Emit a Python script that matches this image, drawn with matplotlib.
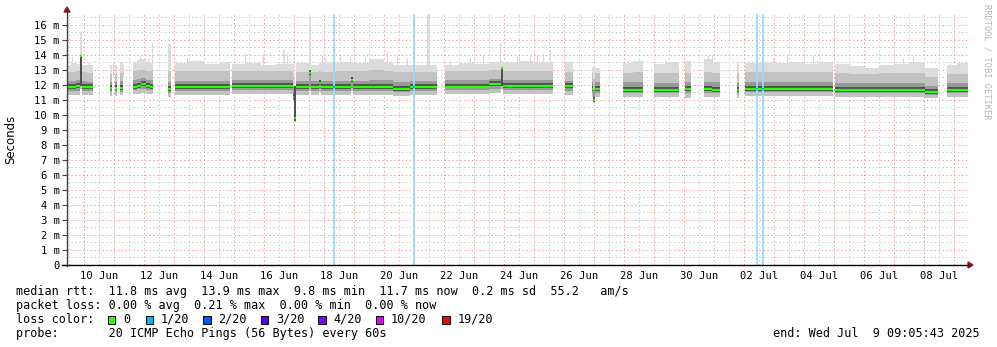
import numpy as np
import matplotlib
matplotlib.use("Agg")
import matplotlib.pyplot as plt
from matplotlib.lines import Line2D
from matplotlib.patches import Rectangle, Polygon

nan = np.nan
W, H = 997, 347

# sample start times in days since 09 Jun 00:00; a nan row closes a block of data
t = np.array([
    0.43, 0.58, 0.73, 0.86, 0.93, 1.10, 1.30,
    1.85, 1.92,
    2.03, 2.11,
    2.20, 2.31,
    2.62, 2.75, 2.90, 3.05, 3.20, 3.26, 3.30,
    3.80, 3.89,
    4.03, 4.50, 5.00, 5.50, 5.87,
    5.93, 6.40, 6.90, 7.40, 7.62, 7.70, 7.95, 7.99, 8.06, 8.50, 8.56, 8.83,
    8.90, 9.40, 9.90, 9.96, 10.50, 11.00, 11.30, 11.87, 12.20, 12.43, 12.53, 12.77,
    13.03, 13.50, 14.00, 14.50, 14.90, 14.96, 15.50, 16.00, 16.52, 16.58, 16.62,
    17.03, 17.30,
    17.92, 17.97, 18.05, 18.20,
    18.96, 19.30, 19.62,
    20.00, 20.40, 20.83,
    21.03, 21.23,
    21.67, 21.95, 22.20,
    22.76, 22.83,
    23.03, 23.50, 24.00, 24.50, 25.00, 25.50, 25.97,
    26.03, 26.50, 27.00, 27.50, 28.00, 28.50, 29.03, 29.47,
    29.76, 30.10, 30.47,
])

# median rtt (ms)
med = np.array([
    11.85, 11.85, 11.90, 13.90, 11.85, 11.85, nan,
    11.80, nan,
    11.82, nan,
    11.80, nan,
    11.85, 11.95, 12.05, 11.90, 11.85, 11.85, nan,
    11.72, nan,
    11.84, 11.84, 11.84, 11.84, nan,
    11.92, 11.92, 11.92, 11.92, 11.92, 11.92, 11.20, 9.80, 11.84, 12.80, 11.84, 12.10,
    11.84, 11.84, 12.30, 11.84, 11.84, 11.84, 11.71, 11.84, 11.84, 11.84, 11.84, nan,
    11.89, 11.89, 11.89, 12.04, 13.10, 11.90, 11.90, 11.90, 11.92, 11.90, nan,
    11.90, nan,
    11.70, 11.00, 11.70, nan,
    11.67, 11.67, nan,
    11.67, 11.67, nan,
    11.70, nan,
    11.70, 11.67, nan,
    11.67, nan,
    11.70, 11.70, 11.70, 11.70, 11.70, 11.70, nan,
    11.67, 11.67, 11.67, 11.67, 11.67, 11.67, 11.53, nan,
    11.67, 11.67, nan,
])

# smoke: lowest ping
low = np.array([
    11.35, 11.35, 11.35, 11.70, 11.35, 11.35, nan,
    11.25, nan,
    11.25, nan,
    11.30, nan,
    11.40, 11.40, 11.45, 11.40, 11.40, 11.40, nan,
    11.20, nan,
    11.35, 11.35, 11.35, 11.35, nan,
    11.40, 11.40, 11.40, 11.40, 11.40, 11.40, 10.90, 9.55, 11.35, 11.60, 11.35, 11.50,
    11.35, 11.35, 11.60, 11.35, 11.35, 11.35, 11.25, 11.35, 11.35, 11.35, 11.35, nan,
    11.40, 11.40, 11.40, 11.45, 11.70, 11.40, 11.40, 11.40, 11.40, 11.40, nan,
    11.35, nan,
    11.20, 10.80, 11.20, nan,
    11.20, 11.20, nan,
    11.20, 11.20, nan,
    11.15, nan,
    11.20, 11.20, nan,
    11.15, nan,
    11.25, 11.25, 11.25, 11.25, 11.25, 11.25, nan,
    11.20, 11.20, 11.20, 11.20, 11.20, 11.20, 11.10, nan,
    11.20, 11.20, nan,
])

# smoke: inner pings around the median
inner_lo = np.array([
    11.60, 11.60, 11.60, 11.90, 11.60, 11.60, nan,
    11.50, nan,
    11.50, nan,
    11.55, nan,
    11.65, 11.70, 11.75, 11.65, 11.65, 11.65, nan,
    11.45, nan,
    11.60, 11.60, 11.60, 11.60, nan,
    11.65, 11.65, 11.65, 11.65, 11.65, 11.65, 11.00, 9.60, 11.60, 11.85, 11.60, 11.70,
    11.60, 11.60, 11.80, 11.60, 11.60, 11.60, 11.50, 11.60, 11.60, 11.60, 11.60, nan,
    11.65, 11.65, 11.65, 11.75, 11.95, 11.65, 11.65, 11.65, 11.65, 11.65, nan,
    11.60, nan,
    11.45, 10.90, 11.45, nan,
    11.45, 11.45, nan,
    11.45, 11.45, nan,
    11.45, nan,
    11.45, 11.45, nan,
    11.40, nan,
    11.50, 11.50, 11.50, 11.50, 11.50, 11.50, nan,
    11.45, 11.45, 11.45, 11.45, 11.45, 11.45, 11.30, nan,
    11.45, 11.45, nan,
])

inner_hi = np.array([
    12.25, 12.25, 12.30, 13.90, 12.25, 12.20, nan,
    12.20, nan,
    12.20, nan,
    12.25, nan,
    12.30, 12.40, 12.45, 12.30, 12.30, 12.30, nan,
    12.20, nan,
    12.25, 12.25, 12.25, 12.25, nan,
    12.30, 12.30, 12.30, 12.30, 12.30, 12.30, 11.90, 11.90, 12.25, 12.80, 12.25, 12.25,
    12.25, 12.25, 12.35, 12.25, 12.30, 12.30, 12.20, 12.25, 12.25, 12.25, 12.25, nan,
    12.30, 12.30, 12.30, 12.40, 13.10, 12.30, 12.30, 12.30, 12.35, 12.30, nan,
    12.25, nan,
    12.20, 11.70, 12.20, nan,
    12.20, 12.20, nan,
    12.15, 12.15, nan,
    12.20, nan,
    12.20, 12.20, nan,
    12.15, nan,
    12.20, 12.20, 12.20, 12.20, 12.20, 12.20, nan,
    12.15, 12.15, 12.15, 12.15, 12.15, 12.15, 11.95, nan,
    12.15, 12.15, nan,
])

mid_hi = np.array([
    12.85, 12.85, 12.90, 13.90, 12.85, 12.80, nan,
    12.70, nan,
    12.70, nan,
    12.80, nan,
    12.90, 13.00, 13.00, 12.90, 12.90, 12.90, nan,
    12.90, nan,
    12.90, 12.90, 12.90, 12.90, nan,
    12.90, 12.90, 12.90, 12.90, 12.90, 12.90, 12.60, 11.95, 12.85, 12.85, 12.85, 12.90,
    12.85, 12.90, 12.90, 12.90, 13.00, 12.95, 12.85, 12.85, 12.85, 12.85, 12.85, nan,
    12.90, 12.90, 12.90, 13.00, 13.10, 12.90, 12.90, 12.95, 13.00, 12.90, nan,
    12.85, nan,
    12.80, 12.40, 12.80, nan,
    12.80, 12.85, nan,
    12.80, 12.80, nan,
    12.80, nan,
    12.85, 12.80, nan,
    12.80, nan,
    12.85, 12.85, 12.85, 12.85, 12.85, 12.85, nan,
    12.80, 12.75, 12.75, 12.80, 12.80, 12.80, 12.50, nan,
    12.75, 12.75, nan,
])

# smoke: highest ping
top = np.array([
    13.30, 13.45, 13.40, 15.50, 13.35, 13.30, nan,
    13.35, nan,
    13.30, nan,
    13.55, nan,
    13.55, 13.65, 13.70, 13.55, 13.45, 14.80, nan,
    14.70, nan,
    13.45, 13.60, 13.40, 13.50, nan,
    13.40, 13.45, 13.30, 13.40, 14.30, 13.40, 13.40, 12.00, 13.45, 16.50, 13.30, 13.45,
    13.50, 13.55, 13.50, 13.45, 13.70, 13.50, 13.35, 13.30, 13.35, 16.80, 13.30, nan,
    13.35, 13.45, 13.40, 13.50, 13.60, 13.55, 13.60, 13.55, 14.30, 13.50, nan,
    13.55, nan,
    13.20, 13.20, 13.10, nan,
    13.45, 13.60, nan,
    13.40, 13.50, nan,
    13.60, nan,
    13.70, 13.50, nan,
    13.50, nan,
    13.45, 13.55, 13.45, 13.55, 13.40, 13.55, nan,
    13.40, 13.25, 13.15, 13.35, 13.40, 13.55, 13.10, nan,
    13.35, 13.45, nan,
])

# single high pings sticking out of the smoke
peak_t = [0.59, 1.17, 1.96, 2.29, 2.87, 3.13, 4.42, 4.76, 6.37, 6.97, 7.76, 8.92, 9.03,
          9.53, 9.87, 10.37, 11.09, 11.42, 11.76, 13.20, 13.87, 14.30, 14.87, 15.42,
          15.51, 15.87, 16.09, 16.31, 17.09, 19.48, 20.37, 20.42, 20.76, 21.20, 21.81,
          21.92, 22.81, 23.42, 23.98, 24.42, 25.31, 25.42, 26.53, 27.64, 28.31, 28.64,
          29.87, 30.37]
peak_v = [13.90, 13.50, 13.50, 13.30, 13.90, 13.80, 13.80, 13.67, 14.10, 14.00, 14.10,
          14.00, 13.80, 13.90, 13.90, 13.80, 14.30, 14.00, 13.80, 13.67, 13.80, 14.00,
          14.80, 13.90, 13.90, 13.90, 14.00, 14.10, 13.55, 13.67, 13.67, 13.45, 13.55,
          13.67, 13.90, 14.00, 13.55, 13.67, 13.78, 13.90, 13.90, 13.67, 13.45, 13.33,
          13.78, 13.90, 13.45, 13.55]

# moments with 1/20 packet loss
loss_t = [9.33, 12.00, 23.42, 23.63]

x_labels = ["10 Jun", "12 Jun", "14 Jun", "16 Jun", "18 Jun", "20 Jun", "22 Jun",
            "24 Jun", "26 Jun", "28 Jun", "30 Jun", "02 Jul", "04 Jul", "06 Jul", "08 Jul"]

loss_names = ["0", "1/20", "2/20", "3/20", "4/20", "10/20", "19/20"]
loss_colors = ["#26ff00", "#00b8ff", "#0059ff", "#5e00ff", "#7e00ff", "#dd00ff", "#ff0000"]

MONO = "DejaVu Sans Mono"


def px(x, y):
    return x / W, 1 - y / H


def step_xy(values):
    xs, ys = [], []
    for i in range(len(t) - 1):
        if np.isnan(values[i]):
            xs.append(t[i])
            ys.append(nan)
        else:
            xs += [t[i], t[i + 1]]
            ys += [values[i], values[i]]
    return np.array(xs), np.array(ys)


fig = plt.figure(figsize=(W / 100, H / 100), dpi=100)
ax = fig.add_axes([67 / W, 1 - 265 / H, 901 / W, 251 / H])
ax.set_xlim(0.433, 30.467)
ax.set_ylim(0, 16.733)
for s in ax.spines.values():
    s.set_visible(False)

# grid: red at whole days / ms, grey in between (drawn under the smoke)
dots = (0, (1.4, 2.6))
for d in np.arange(0.5, 30.6, 1.0):
    ax.axvline(d, color="#c8c8c8", lw=0.7, ls=dots, zorder=0.3)
for d in range(1, 31):
    ax.axvline(d, color="#eb9a9a", lw=0.7, ls=dots, zorder=0.4)
for v in np.arange(0.5, 16.6, 1.0):
    ax.axhline(v, color="#c8c8c8", lw=0.7, ls=dots, zorder=0.3)
for v in range(1, 17):
    ax.axhline(v, color="#eb9a9a", lw=0.7, ls=dots, zorder=0.4)

# smoke
xs, y_low = step_xy(low)
_, y_top = step_xy(top)
_, y_mid = step_xy(mid_hi)
_, y_ilo = step_xy(inner_lo)
_, y_ihi = step_xy(inner_hi)
_, y_med = step_xy(med)
ax.vlines(peak_t, 12.5, peak_v, color="#d6d6d6", lw=0.8, zorder=0.9)
ax.fill_between(xs, y_low, y_top, color="#dcdcdc", lw=0, zorder=1)
ax.fill_between(xs, y_low, y_mid, color="#c2c2c2", lw=0, zorder=1.1)
ax.fill_between(xs, y_ilo, y_ihi, color="#999999", lw=0, zorder=1.2)
# dense columns (all pings close to the median) render nearly black
dense = (y_ihi - y_ilo) > 1.0
core_lo = np.where(dense, y_ilo, y_med - 0.12)
core_hi = np.where(dense, y_ihi, y_med + 0.2)
ax.fill_between(xs, core_lo, core_hi, color="#505050", lw=0, zorder=1.25)

# packet loss markers
for lt in loss_t:
    ax.axvline(lt, color="#97dcf8", lw=1.3, zorder=1.3)

# median line
idx = np.where(~np.isnan(med))[0]
ax.hlines(med[idx], t[idx], t[idx + 1], color=loss_colors[0], lw=1.6, zorder=3)
for lt in loss_t:
    i = np.searchsorted(t, lt) - 1
    ax.hlines(med[i], lt - 0.03, lt + 0.03, color=loss_colors[1], lw=1.6, zorder=3.1)

# ticks
ax.set_yticks(range(0, 17))
ax.set_yticklabels(["0"] + [f"{v} m" for v in range(1, 17)], fontfamily=MONO, fontsize=7.6)
ax.tick_params(axis="y", length=3.6, width=0.8, color="#444444", pad=1.5)
ax.set_xticks(np.arange(1.5, 30, 2.0))
ax.set_xticklabels(x_labels, fontfamily=MONO, fontsize=7.6)
ax.tick_params(axis="x", length=0, pad=4)

# axes lines and arrows
fig.add_artist(Line2D([67 / W, 67 / W], [1 - 266 / H, 1 - 11 / H], color="#404040", lw=1))
fig.add_artist(Line2D([62 / W, 968 / W], [1 - 265 / H, 1 - 265 / H], color="#000000", lw=1))
fig.add_artist(Polygon([px(64, 12), px(70, 12), px(67, 7)], closed=True, color="#8b1a1a"))
fig.add_artist(Polygon([px(968, 262), px(968, 268), px(973, 265)], closed=True, color="#8b1a1a"))

fig.text(*px(11, 139), "Seconds", rotation=90, ha="center", va="center", fontsize=8.5)
fig.text(*px(987, 4), "RRDTOOL / TOBI OETIKER", rotation=270, ha="center", va="top",
         fontsize=6.2, fontfamily=MONO, color="#b4b4b4")


# legend block
def txt(x, y, s, **kw):
    fig.text(*px(x, y), s, ha="left", va="baseline", fontsize=8.5, fontfamily=MONO, **kw)


txt(16, 295, "median rtt:  11.8 ms avg  13.9 ms max  9.8 ms min  11.7 ms now  0.2 ms sd  55.2   am/s")
txt(16, 309, "packet loss: 0.00 % avg  0.21 % max  0.00 % min  0.00 % now")
txt(16, 323, "loss color:")
box_x = [108, 145.7, 203.3, 260.7, 318.3, 376, 442.3]
for bx, name, col in zip(box_x, loss_names, loss_colors):
    fig.add_artist(Rectangle(px(bx, 323.5), 7.3 / W, 7.3 / H, facecolor=col,
                             edgecolor="black", lw=0.7))
    txt(bx + 15, 323, name)
txt(16, 337, "probe:       20 ICMP Echo Pings (56 Bytes) every 60s")
fig.text(*px(980, 337), "end: Wed Jul  9 09:05:43 2025", ha="right", va="baseline",
         fontsize=8.5, fontfamily=MONO)

fig.savefig("out.png", dpi=100)
